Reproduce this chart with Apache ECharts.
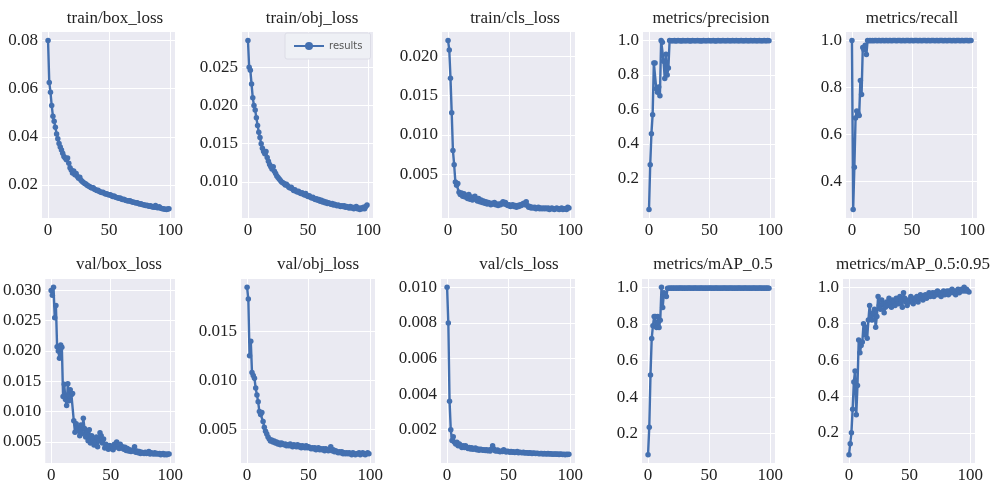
<!DOCTYPE html>
<html>
<head>
<meta charset="utf-8">
<script src="https://cdn.jsdelivr.net/npm/echarts@6/dist/echarts.min.js"></script>
<style>
  html, body { margin: 0; padding: 0; background: #fff; }
  #main { width: 1006px; height: 488px; }
</style>
</head>
<body>
<div id="main"></div>
<script>
// 各子图标题
var titles = ['train/box_loss', 'train/obj_loss', 'train/cls_loss', 'metrics/precision', 'metrics/recall',
    'val/box_loss', 'val/obj_loss', 'val/cls_loss', 'metrics/mAP_0.5', 'metrics/mAP_0.5:0.95'];

// x轴刻度
var xTicks = [0, 50, 100];

// y轴刻度
var yTicks = [
    [0.02, 0.04, 0.06, 0.08],
    [0.010, 0.015, 0.020, 0.025],
    [0.005, 0.010, 0.015, 0.020],
    [0.2, 0.4, 0.6, 0.8, 1.0],
    [0.4, 0.6, 0.8, 1.0],
    [0.005, 0.010, 0.015, 0.020, 0.025, 0.030],
    [0.005, 0.010, 0.015],
    [0.002, 0.004, 0.006, 0.008, 0.010],
    [0.2, 0.4, 0.6, 0.8, 1.0],
    [0.2, 0.4, 0.6, 0.8, 1.0]
];
var yDigits = [2, 3, 3, 1, 1, 3, 3, 3, 1, 1];

// 每个epoch的数值 (0-99)
var trainBox = [0.0800, 0.0625, 0.0585, 0.0530, 0.0485, 0.0465, 0.0440, 0.0412, 0.0392, 0.0372,
    0.0358, 0.0345, 0.0332, 0.0318, 0.0312, 0.0305, 0.0312, 0.0290, 0.0272, 0.0262,
    0.0250, 0.0258, 0.0242, 0.0248, 0.0235, 0.0228, 0.0232, 0.0220, 0.0214, 0.0210,
    0.0206, 0.0204, 0.0199, 0.0196, 0.0194, 0.0190, 0.0187, 0.0188, 0.0182, 0.0180,
    0.0177, 0.0178, 0.0173, 0.0171, 0.0169, 0.0170, 0.0166, 0.0163, 0.0164, 0.0160,
    0.0158, 0.0159, 0.0155, 0.0152, 0.0154, 0.0150, 0.0148, 0.0147, 0.0145, 0.0146,
    0.0142, 0.0140, 0.0141, 0.0138, 0.0136, 0.0135, 0.0133, 0.0134, 0.0131, 0.0129,
    0.0128, 0.0127, 0.0125, 0.0126, 0.0123, 0.0121, 0.0122, 0.0119, 0.0118, 0.0117,
    0.0115, 0.0116, 0.0113, 0.0112, 0.0114, 0.0110, 0.0109, 0.0108, 0.0115, 0.0106,
    0.0105, 0.0110, 0.0104, 0.0102, 0.0101, 0.0100, 0.0099, 0.0098, 0.0100, 0.0101];

var trainObj = [0.0285, 0.0250, 0.0246, 0.0228, 0.0210, 0.0200, 0.0194, 0.0184, 0.0174, 0.0165,
    0.0158, 0.0150, 0.0144, 0.0140, 0.0137, 0.0140, 0.0132, 0.0127, 0.0123, 0.0120,
    0.0117, 0.0120, 0.0114, 0.0111, 0.0108, 0.0106, 0.0104, 0.0102, 0.0100, 0.0099,
    0.0098, 0.0096, 0.0097, 0.0095, 0.0093, 0.0092, 0.0093, 0.0091, 0.0089, 0.0090,
    0.0088, 0.0087, 0.0088, 0.0086, 0.0085, 0.0086, 0.0084, 0.0083, 0.0085, 0.0082,
    0.0081, 0.0082, 0.0080, 0.0079, 0.0080, 0.0078, 0.0077, 0.0078, 0.0076, 0.0077,
    0.0075, 0.0076, 0.0074, 0.0075, 0.0073, 0.0074, 0.0072, 0.0073, 0.0072, 0.0071,
    0.0072, 0.0070, 0.0071, 0.0070, 0.0069, 0.0070, 0.0069, 0.0068, 0.0069, 0.0068,
    0.0069, 0.0067, 0.0068, 0.0067, 0.0066, 0.0068, 0.0066, 0.0067, 0.0065, 0.0066,
    0.0068, 0.0065, 0.0066, 0.0064, 0.0066, 0.0065, 0.0067, 0.0065, 0.0068, 0.0070];

var trainCls = [0.0220, 0.0208, 0.0172, 0.0128, 0.0080, 0.0062, 0.0040, 0.0036, 0.0038, 0.0027,
    0.0024, 0.0026, 0.0022, 0.0025, 0.0021, 0.0023, 0.0019, 0.0024, 0.0018, 0.0021,
    0.0017, 0.0020, 0.0022, 0.0018, 0.0016, 0.0019, 0.0015, 0.0017, 0.0014, 0.0016,
    0.0013, 0.0015, 0.0012, 0.0014, 0.0013, 0.0011, 0.0013, 0.0012, 0.0014, 0.0011,
    0.0012, 0.0010, 0.0012, 0.0011, 0.0013, 0.0015, 0.0012, 0.0014, 0.0011, 0.0010,
    0.0011, 0.0009, 0.0010, 0.0011, 0.0009, 0.0010, 0.0008, 0.0010, 0.0009, 0.0011,
    0.0010, 0.0012, 0.0013, 0.0011, 0.0015, 0.0010, 0.0008, 0.0009, 0.0007, 0.0008,
    0.0007, 0.0008, 0.0006, 0.0007, 0.0008, 0.0006, 0.0007, 0.0006, 0.0007, 0.0006,
    0.0007, 0.0006, 0.0007, 0.0005, 0.0006, 0.0007, 0.0006, 0.0005, 0.0006, 0.0007,
    0.0006, 0.0005, 0.0006, 0.0007, 0.0005, 0.0006, 0.0006, 0.0005, 0.0008, 0.0007];

var precision = [0.02, 0.28, 0.46, 0.57, 0.87, 0.87, 0.72, 0.70, 0.73, 0.68,
    1.00, 0.99, 0.88, 0.78, 0.92, 0.80, 0.84, 1.00, 0.998, 0.999,
    0.998, 1.00, 0.997, 0.999, 1.00, 0.998, 0.999, 0.997, 1.00, 0.999,
    0.998, 0.999, 1.00, 0.998, 0.997, 0.999, 1.00, 0.998, 0.999, 0.998,
    1.00, 0.999, 0.998, 0.997, 0.999, 1.00, 0.998, 0.999, 0.998, 1.00,
    0.999, 0.998, 0.999, 1.00, 0.998, 0.997, 0.999, 1.00, 0.999, 0.998,
    0.999, 1.00, 0.998, 0.999, 0.998, 1.00, 0.999, 0.998, 0.999, 1.00,
    0.998, 0.999, 1.00, 0.999, 0.998, 0.999, 1.00, 0.998, 0.999, 0.999,
    1.00, 0.998, 0.999, 0.999, 1.00, 0.998, 0.999, 1.00, 0.999, 0.998,
    0.999, 1.00, 0.999, 0.998, 0.999, 1.00, 0.999, 0.999, 1.00, 0.999];

var recall = [1.00, 0.28, 0.46, 0.67, 0.70, 0.69, 0.68, 0.83, 0.77, 0.97,
    0.96, 0.98, 0.94, 1.00, 0.999, 1.00, 0.999, 1.00, 0.999, 1.00,
    1.00, 0.999, 1.00, 1.00, 0.999, 1.00, 1.00, 0.999, 1.00, 1.00,
    0.999, 1.00, 1.00, 0.999, 1.00, 1.00, 1.00, 0.999, 1.00, 1.00,
    1.00, 0.999, 1.00, 1.00, 0.999, 1.00, 1.00, 1.00, 0.999, 1.00,
    1.00, 0.999, 1.00, 1.00, 1.00, 0.999, 1.00, 1.00, 0.999, 1.00,
    1.00, 1.00, 0.999, 1.00, 1.00, 0.999, 1.00, 1.00, 1.00, 0.999,
    1.00, 1.00, 0.999, 1.00, 1.00, 1.00, 0.999, 1.00, 1.00, 0.999,
    1.00, 1.00, 1.00, 0.999, 1.00, 1.00, 0.999, 1.00, 1.00, 1.00,
    0.999, 1.00, 1.00, 0.999, 1.00, 1.00, 1.00, 0.999, 1.00, 1.00];

var valBox = [0.0300, 0.0292, 0.0305, 0.0255, 0.0275, 0.0207, 0.0200, 0.0188, 0.0210, 0.0206,
    0.0125, 0.0145, 0.0120, 0.0110, 0.0146, 0.0118, 0.0136, 0.0128, 0.0130, 0.0085,
    0.0066, 0.0080, 0.0074, 0.0068, 0.0060, 0.0078, 0.0064, 0.0089, 0.0072, 0.0058,
    0.0066, 0.0052, 0.0070, 0.0048, 0.0060, 0.0055, 0.0045, 0.0050, 0.0058, 0.0042,
    0.0052, 0.0065, 0.0060, 0.0048, 0.0055, 0.0040, 0.0046, 0.0042, 0.0038, 0.0044,
    0.0039, 0.0043, 0.0037, 0.0046, 0.0041, 0.0050, 0.0044, 0.0039, 0.0046, 0.0040,
    0.0042, 0.0038, 0.0041, 0.0036, 0.0039, 0.0035, 0.0037, 0.0034, 0.0036, 0.0035,
    0.0042, 0.0033, 0.0035, 0.0032, 0.0034, 0.0031, 0.0033, 0.0032, 0.0031, 0.0033,
    0.0031, 0.0032, 0.0034, 0.0030, 0.0032, 0.0031, 0.0030, 0.0032, 0.0030, 0.0031,
    0.0030, 0.0031, 0.0029, 0.0030, 0.0031, 0.0029, 0.0030, 0.0029, 0.0030, 0.0030];

var valObj = [0.0195, 0.0183, 0.0125, 0.0140, 0.0108, 0.0105, 0.0102, 0.0092, 0.0085, 0.0078,
    0.0068, 0.0065, 0.0067, 0.0058, 0.0052, 0.0048, 0.0045, 0.0042, 0.0040, 0.0038,
    0.0039, 0.0037, 0.0038, 0.0036, 0.0037, 0.0035, 0.0036, 0.0034, 0.0036, 0.0035,
    0.0034, 0.0035, 0.0033, 0.0034, 0.0033, 0.0035, 0.0033, 0.0032, 0.0034, 0.0033,
    0.0032, 0.0034, 0.0032, 0.0033, 0.0031, 0.0033, 0.0032, 0.0031, 0.0033, 0.0031,
    0.0032, 0.0031, 0.0030, 0.0031, 0.0030, 0.0031, 0.0029, 0.0030, 0.0031, 0.0029,
    0.0030, 0.0029, 0.0030, 0.0028, 0.0030, 0.0029, 0.0028, 0.0029, 0.0032, 0.0028,
    0.0029, 0.0027, 0.0028, 0.0027, 0.0026, 0.0027, 0.0026, 0.0027, 0.0025, 0.0026,
    0.0025, 0.0026, 0.0025, 0.0026, 0.0025, 0.0024, 0.0026, 0.0025, 0.0024, 0.0025,
    0.0025, 0.0026, 0.0024, 0.0025, 0.0026, 0.0025, 0.0024, 0.0025, 0.0026, 0.0025];

var valCls = [0.0100, 0.0080, 0.0036, 0.0020, 0.0014, 0.0016, 0.0013, 0.0012, 0.0013, 0.0011,
    0.0012, 0.0011, 0.0010, 0.0011, 0.0010, 0.0011, 0.0010, 0.00095, 0.0010, 0.00092,
    0.00098, 0.00090, 0.00093, 0.00097, 0.00088, 0.00091, 0.00085, 0.00090, 0.00089, 0.00084,
    0.00088, 0.00083, 0.00087, 0.00082, 0.00086, 0.00081, 0.00090, 0.00110, 0.00092, 0.00082,
    0.00080, 0.00086, 0.00079, 0.00076, 0.00081, 0.00078, 0.00088, 0.00080, 0.00075, 0.00079,
    0.00078, 0.00074, 0.00077, 0.00073, 0.00076, 0.00072, 0.00074, 0.00077, 0.00071, 0.00073,
    0.00072, 0.00070, 0.00073, 0.00069, 0.00071, 0.00070, 0.00068, 0.00071, 0.00069, 0.00067,
    0.00069, 0.00068, 0.00066, 0.00068, 0.00067, 0.00065, 0.00067, 0.00066, 0.00064, 0.00066,
    0.00065, 0.00064, 0.00066, 0.00063, 0.00065, 0.00064, 0.00062, 0.00064, 0.00063, 0.00062,
    0.00063, 0.00061, 0.00063, 0.00062, 0.00061, 0.00062, 0.00060, 0.00062, 0.00061, 0.00062];

var map05 = [0.085, 0.235, 0.52, 0.72, 0.79, 0.84, 0.84, 0.78, 0.84, 0.78,
    0.82, 1.00, 0.89, 0.97, 0.96, 0.95, 0.995, 0.995, 0.996, 0.995,
    0.996, 0.995, 0.997, 0.995, 0.996, 0.995, 0.996, 0.997, 0.995, 0.996,
    0.995, 0.996, 0.995, 0.997, 0.996, 0.995, 0.996, 0.995, 0.997, 0.996,
    0.995, 0.996, 0.995, 0.996, 0.997, 0.995, 0.996, 0.995, 0.996, 0.995,
    0.997, 0.996, 0.995, 0.996, 0.995, 0.996, 0.997, 0.995, 0.996, 0.995,
    0.996, 0.995, 0.997, 0.996, 0.995, 0.996, 0.995, 0.996, 0.997, 0.995,
    0.996, 0.995, 0.996, 0.995, 0.997, 0.996, 0.995, 0.996, 0.995, 0.996,
    0.997, 0.995, 0.996, 0.995, 0.996, 0.995, 0.997, 0.996, 0.995, 0.996,
    0.995, 0.996, 0.997, 0.995, 0.996, 0.995, 0.996, 0.995, 0.996, 0.995];

var map5095 = [0.08, 0.14, 0.20, 0.33, 0.48, 0.54, 0.30, 0.46, 0.71, 0.64,
    0.68, 0.70, 0.80, 0.74, 0.78, 0.72, 0.82, 0.90, 0.84, 0.82,
    0.86, 0.88, 0.78, 0.84, 0.95, 0.90, 0.88, 0.93, 0.91, 0.86,
    0.89, 0.92, 0.90, 0.94, 0.91, 0.89, 0.93, 0.92, 0.90, 0.94,
    0.93, 0.91, 0.95, 0.93, 0.89, 0.97, 0.94, 0.92, 0.90, 0.93,
    0.92, 0.95, 0.93, 0.91, 0.94, 0.93, 0.95, 0.92, 0.94, 0.96,
    0.94, 0.93, 0.95, 0.96, 0.94, 0.95, 0.97, 0.95, 0.96, 0.97,
    0.95, 0.97, 0.96, 0.98, 0.96, 0.97, 0.95, 0.97, 0.98, 0.96,
    0.97, 0.98, 0.96, 0.98, 0.97, 0.99, 0.97, 0.98, 0.96, 0.98,
    0.99, 0.97, 0.98, 0.99, 0.98, 1.00, 0.98, 0.99, 0.98, 0.975];

var seriesData = [trainBox, trainObj, trainCls, precision, recall, valBox, valObj, valCls, map05, map5095];

// 子图位置
var boxes = [
    [42, 32, 133, 186], [242, 32, 131, 186], [442, 32, 133, 186], [643, 32, 132, 186], [846, 32, 131, 186],
    [42, 279, 133, 184], [241, 279, 134, 184], [441, 279, 134, 184], [642, 279, 133, 184], [843, 279, 132, 184]
];
var titleX = [110, 307, 510, 706, 907, 114, 313, 514, 708, 908];

var font = 'Liberation Serif';
var lineColor = '#4470b0';

var grids = [], xAxes = [], yAxes = [], series = [], titleList = [];
for (var i = 0; i < 10; i++) {
    var d = seriesData[i];
    var lo = Math.min.apply(null, d), hi = Math.max.apply(null, d);
    var pad = (hi - lo) * 0.05;
    var b = boxes[i];
    grids.push({
        left: b[0], top: b[1], width: b[2], height: b[3],
        show: true, backgroundColor: '#eaeaf2', borderWidth: 0
    });
    xAxes.push({
        type: 'value', gridIndex: i, min: -4.95, max: 103.95,
        axisLine: {show: false},
        axisTick: {show: false, customValues: xTicks},
        axisLabel: {customValues: xTicks, margin: 4, fontFamily: font, fontSize: 17, color: '#222'},
        splitLine: {show: true, lineStyle: {color: '#ffffff', width: 1}}
    });
    (function (digits) {
        yAxes.push({
            type: 'value', gridIndex: i, min: lo - pad, max: hi + pad,
            axisLine: {show: false},
            axisTick: {show: false, customValues: yTicks[i]},
            axisLabel: {
                customValues: yTicks[i], margin: 4, fontFamily: font, fontSize: 17, color: '#222',
                formatter: function (v) { return v.toFixed(digits); }
            },
            splitLine: {show: true, lineStyle: {color: '#ffffff', width: 1}}
        });
    })(yDigits[i]);
    series.push({
        name: 'results',
        type: 'line',
        xAxisIndex: i, yAxisIndex: i,
        data: d.map(function (v, k) { return [k, v]; }),
        symbol: 'circle', symbolSize: 5.5, showSymbol: true,
        lineStyle: {color: lineColor, width: 2.4},
        itemStyle: {color: lineColor},
        animation: false
    });
    titleList.push({
        text: titles[i], left: titleX[i], textAlign: 'center', top: i < 5 ? 5 : 251,
        textStyle: {fontFamily: font, fontSize: 17, fontWeight: 'normal', color: '#222'}
    });
}

var chart = echarts.init(document.getElementById('main'));
chart.setOption({
    animation: false,
    title: titleList,
    legend: {
        data: ['results'],
        left: 285, top: 33,
        padding: [8, 8],
        itemWidth: 30, itemHeight: 10,
        selectedMode: false,
        backgroundColor: '#eef0f5',
        borderColor: '#dcdce6', borderWidth: 1, borderRadius: 2,
        textStyle: {fontFamily: 'DejaVu Sans', fontSize: 10, color: '#555'}
    },
    grid: grids,
    xAxis: xAxes,
    yAxis: yAxes,
    series: series
});
</script>
</body>
</html>
